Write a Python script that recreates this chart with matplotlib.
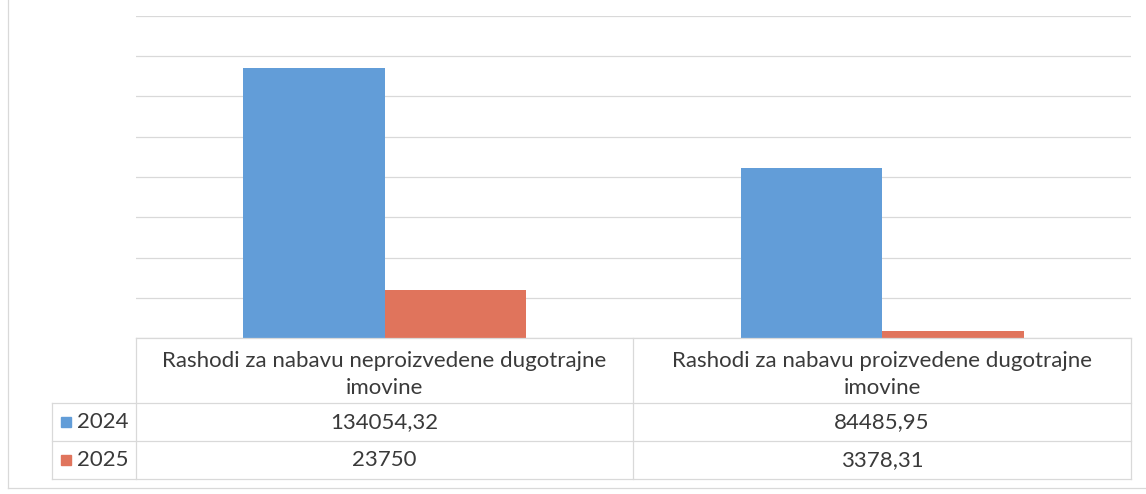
import numpy as np
import matplotlib
matplotlib.use('Agg')
import matplotlib.pyplot as plt
from matplotlib.lines import Line2D
from matplotlib.patches import Rectangle

# data
categories = ['Rashodi za nabavu neproizvedene dugotrajne\nimovine',
              'Rashodi za nabavu proizvedene dugotrajne\nimovine']
series_names = ['2024', '2025']
values_2024 = [134054.32, 84485.95]
values_2025 = [23750, 3378.31]
y_ticks = [0, 20000, 40000, 60000, 80000, 100000, 120000, 140000, 160000]

W, H = 1146, 494
BLUE = '#629dd8'
ORANGE = '#e0745c'
GRID = '#d9d9d9'
TXT = '#3a3a3a'

plt.rcParams['font.family'] = ['Lato', 'DejaVu Sans']


def fx(x):
    return x / W


def fy(y):
    return 1 - y / H


def fmt(v):
    # excel style, comma decimal
    if float(v).is_integer():
        return str(int(v))
    return ('%.2f' % v).replace('.', ',')


def hline(fig, x0, x1, y):
    fig.add_artist(Line2D([fx(x0), fx(x1)], [fy(y), fy(y)], color=GRID, lw=0.9))


def vline(fig, x, y0, y1):
    fig.add_artist(Line2D([fx(x), fx(x)], [fy(y0), fy(y1)], color=GRID, lw=0.9))


def main():
    fig = plt.figure(figsize=(W / 100, H / 100), dpi=100)

    # plot area
    left, right, top, base = 136, 1131, 16, 338
    ax = fig.add_axes([fx(left), fy(base), fx(right) - fx(left), fy(top) - fy(base)])
    x = np.arange(len(categories))
    w = 0.284
    ax.bar(x - w / 2, values_2024, width=w, color=BLUE, zorder=3)
    ax.bar(x + w / 2, values_2025, width=w, color=ORANGE, zorder=3)
    ax.set_xlim(-0.5, len(categories) - 0.5)
    ax.set_ylim(0, y_ticks[-1])
    ax.set_yticks(y_ticks)
    ax.grid(axis='y', color=GRID, lw=0.9, zorder=0)
    ax.tick_params(left=False, bottom=False, labelleft=False, labelbottom=False)
    for s in ax.spines.values():
        s.set_visible(False)

    # data table below the plot
    col_edges = [136, 633, 1131]
    leg_left = 52
    row_edges = [338, 403, 441, 479]
    hline(fig, col_edges[0], col_edges[-1], row_edges[0])
    for ry in row_edges[1:]:
        hline(fig, leg_left, col_edges[-1], ry)
    for cx in col_edges:
        vline(fig, cx, row_edges[0], row_edges[-1])
    vline(fig, leg_left, row_edges[1], row_edges[-1])

    fs = 16
    for i, cat in enumerate(categories):
        cx = (col_edges[i] + col_edges[i + 1]) / 2
        fig.text(fx(cx), fy((row_edges[0] + row_edges[1]) / 2 + 4), cat, ha='center', va='center',
                 fontsize=fs, color=TXT, linespacing=1.38)
    series = [values_2024, values_2025]
    colors = [BLUE, ORANGE]
    for r, name in enumerate(series_names):
        yc = (row_edges[r + 1] + row_edges[r + 2]) / 2
        for i in range(len(categories)):
            cx = (col_edges[i] + col_edges[i + 1]) / 2
            fig.text(fx(cx), fy(yc), fmt(series[r][i]), ha='center', va='center',
                     fontsize=fs, color=TXT)
        fig.add_artist(Rectangle((fx(61), fy(yc + 5)), fx(10), 10 / H, color=colors[r]))
        fig.text(fx(77), fy(yc), name, ha='left', va='center', fontsize=fs, color=TXT)

    # chart frame (left and bottom visible on the scan)
    vline(fig, 8, 0, 488)
    hline(fig, 8, W, 488)

    fig.savefig('out.png', dpi=100, facecolor='white')


if __name__ == '__main__':
    main()
